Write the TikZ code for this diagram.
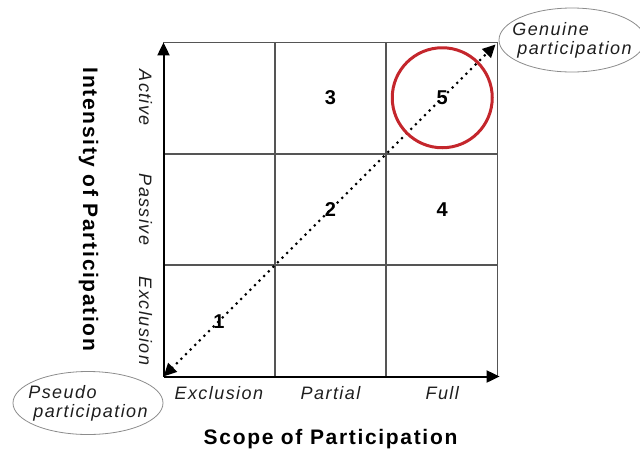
\documentclass[tikz,border=0pt]{standalone}
\usepackage{fontspec}
\setmainfont{Liberation Sans}
\newfontfamily\widefont[LetterSpace=8]{Liberation Sans}
\usetikzlibrary{arrows.meta,shapes.geometric,positioning,calc}
\definecolor{ringred}{RGB}{196,38,44}
\definecolor{inkgray}{RGB}{30,30,30}
\definecolor{gridgray}{RGB}{85,85,85}
\tikzset{
  cell/.style={draw=gridgray,line width=1pt,minimum size=110.7pt,inner sep=0pt,outer sep=0pt,
               font=\bfseries\fontsize{20}{20}\selectfont},
  tick/.style={font=\widefont\itshape\fontsize{18}{18}\selectfont,text=inkgray},
  title/.style={font=\widefont\bfseries\fontsize{21}{21}\selectfont,text=black},
  bubble/.style={ellipse,draw=gray!90,line width=0.8pt,align=left,inner xsep=-12pt,inner ysep=0pt,
                 font=\widefont\itshape\fontsize{18}{20}\selectfont,text=inkgray},
}
\begin{document}
\begin{tikzpicture}[x=1pt,y=-1pt,>={Triangle[length=13pt,width=12pt]}]
\useasboundingbox (0,0) rectangle (640,456);
\matrix[anchor=south west, inner sep=0pt, outer sep=0pt, column sep=0pt, row sep=0pt, nodes={cell}] at (163,377)
{
 \node(C_11){};  & \node(C_12){3}; & \node(C_13){5}; \\
 \node(C_21){};  & \node(C_22){2}; & \node(C_23){4}; \\
 \node(C_31){1}; & \node(C_32){};  & \node(C_33){};  \\
};
% axes
\draw[->,line width=2pt] (C_31.south west) -- (C_11.north west);
\draw[->,line width=2pt] (C_31.south west) -- ([xshift=2pt]C_33.south east);
\draw[<->,line width=3pt,line cap=round,dash pattern=on 0pt off 6.5pt]
  (C_31.south west) -- ([xshift=-2pt,yshift=-2pt]C_13.north east);
\node[circle,draw=ringred,line width=3pt,minimum size=100pt] (ring) at (C_13) {};
% tick labels
\node[tick] (x_1) at ([yshift=-17pt]C_31.south) {Exclusion};
\node[tick] (x_2) at ([yshift=-17pt]C_32.south) {Partial};
\node[tick] (x_3) at ([yshift=-17pt]C_33.south) {Full};
\node[tick,rotate=-90] (y_1) at ([xshift=-18pt]C_11.west) {Active};
\node[tick,rotate=-90] (y_2) at ([xshift=-18pt]C_21.west) {Passive};
\node[tick,rotate=-90] (y_3) at ([xshift=-18pt]C_31.west) {Exclusion};
% titles
\node[title] (scope) at ([yshift=-63pt]C_32.south) {Scope of Participation};
\node[title,rotate=-90] (intensity) at ([xshift=-75pt]C_21.west) {Intensity of Participation};
% bubbles
\node[bubble,minimum width=146pt,minimum height=64pt] (genuine) at (572,40)
  {Genuine\\[-1pt]\hspace*{5pt}participation};
\node[bubble,minimum width=150pt,minimum height=63pt] (pseudo) at (88,403)
  {Pseudo\\[-1pt]\hspace*{5pt}participation};
\end{tikzpicture}
\end{document}
